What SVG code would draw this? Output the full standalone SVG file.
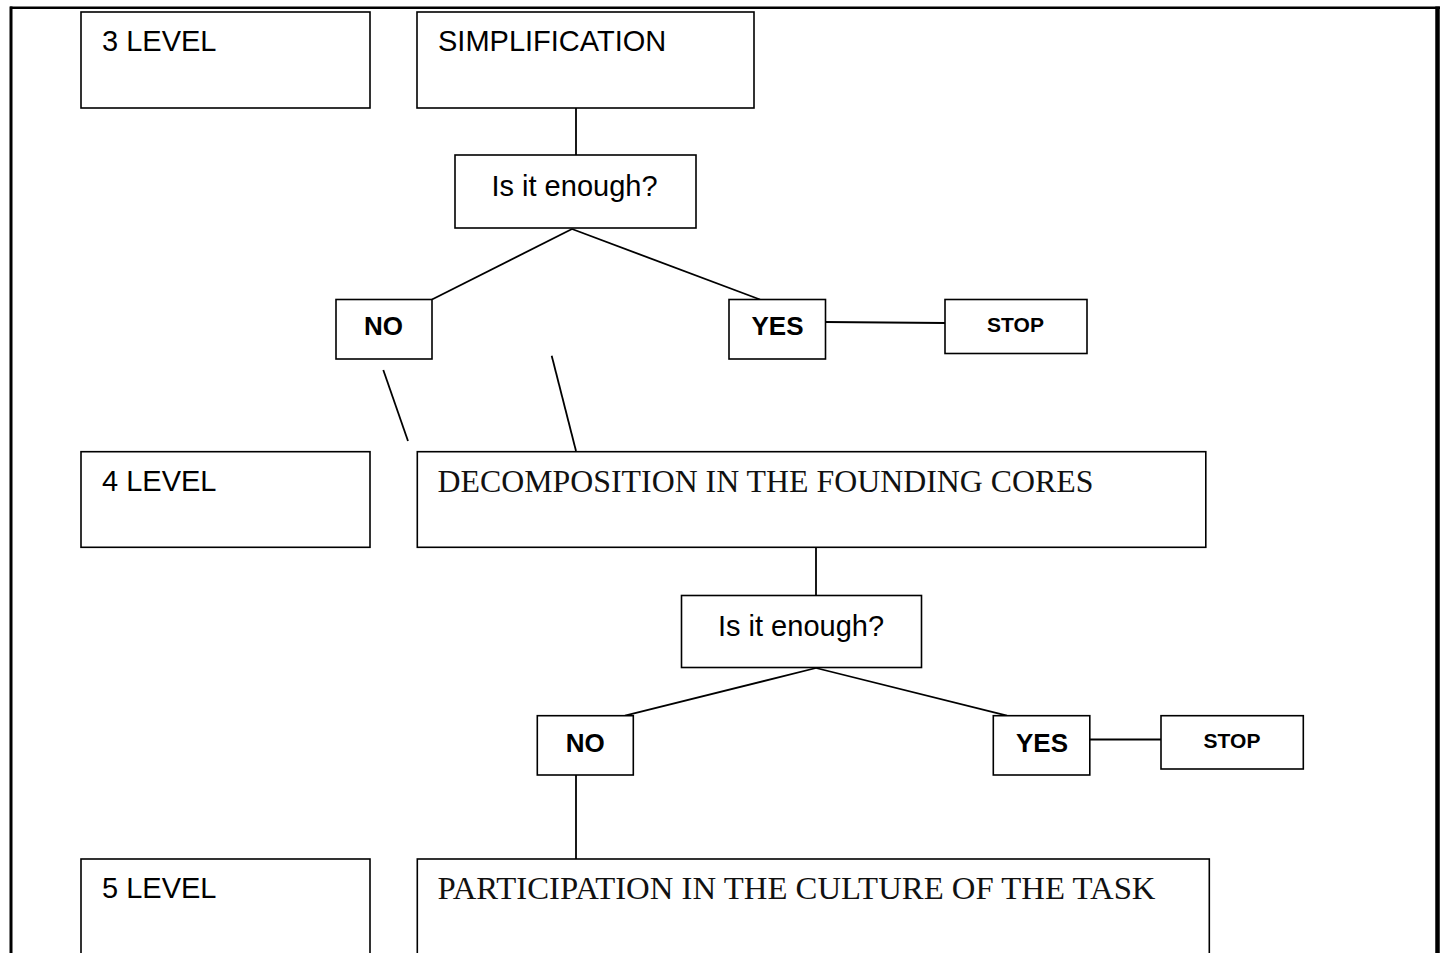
<svg xmlns="http://www.w3.org/2000/svg" width="1445" height="953" viewBox="0 0 1445 953">
<style>
.box{fill:#fff;stroke:#000;stroke-width:1.6}
.ln{stroke:#000;stroke-width:1.8;fill:none}
.sans{font-family:"Liberation Sans",Arial,sans-serif;font-size:29px;fill:#000}
.bold{font-family:"Liberation Sans",Arial,sans-serif;font-weight:bold;font-size:26px;fill:#000}
.stop{font-family:"Liberation Sans",Arial,sans-serif;font-weight:bold;font-size:21px;fill:#000}
.serif{font-family:"Liberation Serif","Times New Roman",serif;font-size:32px;fill:#111}
</style>
<rect width="1445" height="953" fill="#fff"/>
<g id="frame">
<line x1="10" y1="7.8" x2="1440" y2="7.8" stroke="#000" stroke-width="2.5"/>
<line x1="11" y1="6.5" x2="11" y2="953" stroke="#000" stroke-width="3"/>
<line x1="1437.5" y1="6.5" x2="1437.5" y2="953" stroke="#000" stroke-width="4.5"/>
</g>
<g id="connectors">
<line class="ln" x1="576" y1="108" x2="576" y2="155"/>
<line class="ln" x1="572" y1="229" x2="432" y2="299.5"/>
<line class="ln" x1="572" y1="229" x2="760" y2="299.5"/>
<line class="ln" x1="825" y1="322" x2="945" y2="323"/>
<line class="ln" x1="383.3" y1="370" x2="408" y2="441"/>
<line class="ln" x1="551.7" y1="355.7" x2="576" y2="451"/>
<line class="ln" x1="816" y1="547.5" x2="816" y2="595.5"/>
<line class="ln" x1="816" y1="668" x2="625" y2="715.7"/>
<line class="ln" x1="816" y1="668" x2="1007" y2="715.7"/>
<line class="ln" x1="1090" y1="739.5" x2="1161" y2="739.5"/>
<line class="ln" x1="576" y1="775" x2="576" y2="859"/>
</g>
<g id="level3">
<rect class="box" x="81" y="12" width="289" height="96"/>
<text class="sans" x="102" y="51">3 LEVEL</text>
</g>
<g id="simplification">
<rect class="box" x="417" y="12" width="337" height="96"/>
<text class="sans" x="438" y="50.5">SIMPLIFICATION</text>
</g>
<g id="enough1">
<rect class="box" x="455" y="155" width="241" height="73"/>
<text class="sans" x="574.5" y="196" text-anchor="middle">Is it enough?</text>
</g>
<g id="no1">
<rect class="box" x="336" y="299.5" width="96" height="59.5"/>
<text class="bold" x="383.5" y="335" text-anchor="middle">NO</text>
</g>
<g id="yes1">
<rect class="box" x="729" y="299.5" width="96.5" height="59.5"/>
<text class="bold" x="777.5" y="335" text-anchor="middle">YES</text>
</g>
<g id="stop1">
<rect class="box" x="945" y="299.5" width="142" height="54"/>
<text class="stop" x="1015.5" y="331.5" text-anchor="middle">STOP</text>
</g>
<g id="level4">
<rect class="box" x="81" y="451.7" width="289" height="95.6"/>
<text class="sans" x="102" y="490.5">4 LEVEL</text>
</g>
<g id="decomposition">
<rect class="box" x="417.3" y="451.7" width="788.5" height="95.6"/>
<text class="serif" x="437.5" y="492.3" textLength="656" lengthAdjust="spacingAndGlyphs">DECOMPOSITION IN THE FOUNDING CORES</text>
</g>
<g id="enough2">
<rect class="box" x="681.5" y="595.5" width="240" height="72"/>
<text class="sans" x="801" y="636" text-anchor="middle">Is it enough?</text>
</g>
<g id="no2">
<rect class="box" x="537.3" y="715.7" width="96" height="59.3"/>
<text class="bold" x="585.3" y="751.5" text-anchor="middle">NO</text>
</g>
<g id="yes2">
<rect class="box" x="993.3" y="715.7" width="96.5" height="59.3"/>
<text class="bold" x="1042" y="751.5" text-anchor="middle">YES</text>
</g>
<g id="stop2">
<rect class="box" x="1161" y="715.7" width="142.3" height="53.3"/>
<text class="stop" x="1232" y="748" text-anchor="middle">STOP</text>
</g>
<g id="level5">
<rect class="box" x="81" y="859" width="289" height="110"/>
<text class="sans" x="102" y="898">5 LEVEL</text>
</g>
<g id="participation">
<rect class="box" x="417.3" y="859" width="792" height="110"/>
<text class="serif" x="437.5" y="899" textLength="718" lengthAdjust="spacingAndGlyphs">PARTICIPATION IN THE CULTURE OF THE TASK</text>
</g>
</svg>
